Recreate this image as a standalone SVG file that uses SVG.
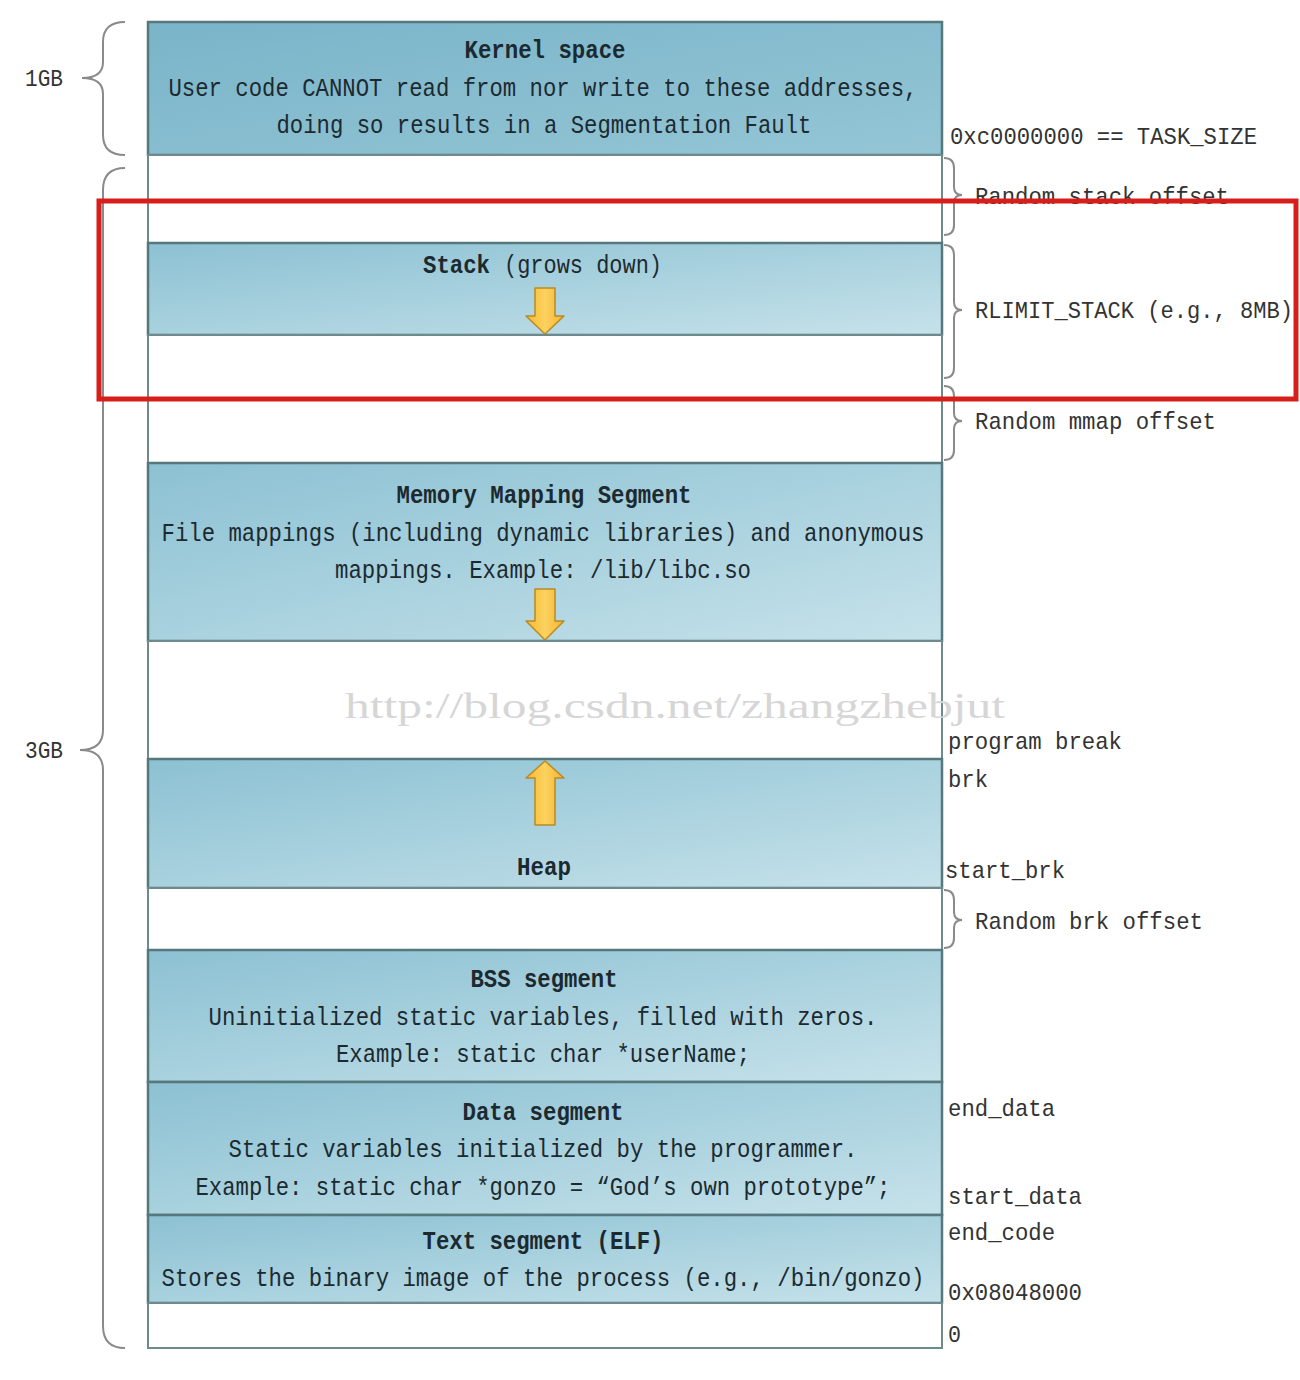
<svg xmlns="http://www.w3.org/2000/svg" width="1300" height="1380" viewBox="0 0 1300 1380">
<style>
.seg{stroke:#56777c;stroke-width:2.5}
.gap{fill:#ffffff;stroke:#6e8a8d;stroke-width:2}
.t{font-family:"Liberation Mono","DejaVu Sans Mono",monospace;font-size:25px;fill:#1c2a30;text-anchor:middle}
.s{text-anchor:start}
.b{font-weight:bold}
.lbl{font-family:"Liberation Mono","DejaVu Sans Mono",monospace;font-size:24px;fill:#333333}
.brace{fill:none;stroke:#8a8a8a;stroke-width:2}
.arrow{fill:url(#yel);stroke:#b98a25;stroke-width:1.5;stroke-linejoin:round}
.wm{font-family:"Liberation Serif","DejaVu Serif",serif;font-size:36px;fill:#d6d6d6}
</style>
<defs>
<linearGradient id="blue" x1="0" y1="0" x2="1" y2="1">
<stop offset="0" stop-color="#8cc1d3"/>
<stop offset="1" stop-color="#c6e2ea"/>
</linearGradient>
<linearGradient id="kern" x1="0" y1="0" x2="1" y2="1">
<stop offset="0" stop-color="#7ab4c9"/>
<stop offset="1" stop-color="#94c6d5"/>
</linearGradient>
<linearGradient id="yel" x1="0" y1="0" x2="1" y2="0">
<stop offset="0" stop-color="#f6b92c"/>
<stop offset="0.5" stop-color="#fcd260"/>
<stop offset="1" stop-color="#f4b42a"/>
</linearGradient>
</defs>
<rect width="1300" height="1380" fill="#ffffff"/>

<g id="kernel">
<rect class="seg" x="148" y="22" width="794" height="133" fill="url(#kern)"/>
<text class="t b" x="545" y="58" textLength="161" lengthAdjust="spacingAndGlyphs">Kernel space</text>
<text class="t" x="543" y="96" textLength="749" lengthAdjust="spacingAndGlyphs">User code CANNOT read from nor write to these addresses,</text>
<text class="t" x="544" y="133" textLength="535" lengthAdjust="spacingAndGlyphs">doing so results in a Segmentation Fault</text>
</g>
<g id="gap-stack-offset"><rect class="gap" x="148" y="155" width="794" height="88"/></g>
<g id="stack">
<rect class="seg" x="148" y="243" width="794" height="92" fill="url(#blue)"/>
<text class="t s b" x="423" y="273" textLength="67" lengthAdjust="spacingAndGlyphs">Stack</text>
<text class="t s" x="504" y="273" textLength="158" lengthAdjust="spacingAndGlyphs">(grows down)</text>
<path class="arrow" d="M535,288 H555 V316 H564 L545,334 L526,316 H535 Z"/>
</g>
<g id="gap-stack-mmap"><rect class="gap" x="148" y="335" width="794" height="128"/></g>
<g id="mmap">
<rect class="seg" x="148" y="463" width="794" height="178" fill="url(#blue)"/>
<text class="t b" x="544" y="503" textLength="295" lengthAdjust="spacingAndGlyphs">Memory Mapping Segment</text>
<text class="t" x="543" y="541" textLength="763" lengthAdjust="spacingAndGlyphs">File mappings (including dynamic libraries) and anonymous</text>
<text class="t" x="543" y="578" textLength="416" lengthAdjust="spacingAndGlyphs">mappings. Example: /lib/libc.so</text>
<path class="arrow" d="M535,589 H555 V621 H564 L545,640 L526,621 H535 Z"/>
</g>
<g id="gap-mmap-heap"><rect class="gap" x="148" y="641" width="794" height="118"/></g>
<g id="heap">
<rect class="seg" x="148" y="759" width="794" height="129" fill="url(#blue)"/>
<path class="arrow" d="M545,761 L564,778 H555 V825 H535 V778 H526 Z"/>
<text class="t b" x="544" y="875" textLength="54" lengthAdjust="spacingAndGlyphs">Heap</text>
</g>
<g id="gap-brk"><rect class="gap" x="148" y="888" width="794" height="62"/></g>
<g id="bss">
<rect class="seg" x="148" y="950" width="794" height="132" fill="url(#blue)"/>
<text class="t b" x="544" y="987" textLength="147" lengthAdjust="spacingAndGlyphs">BSS segment</text>
<text class="t" x="543" y="1025" textLength="669" lengthAdjust="spacingAndGlyphs">Uninitialized static variables, filled with zeros.</text>
<text class="t" x="543" y="1062" textLength="414" lengthAdjust="spacingAndGlyphs">Example: static char *userName;</text>
</g>
<g id="data">
<rect class="seg" x="148" y="1082" width="794" height="133" fill="url(#blue)"/>
<text class="t b" x="543" y="1120" textLength="161" lengthAdjust="spacingAndGlyphs">Data segment</text>
<text class="t" x="543" y="1157" textLength="629" lengthAdjust="spacingAndGlyphs">Static variables initialized by the programmer.</text>
<text class="t" x="543" y="1195" textLength="695" lengthAdjust="spacingAndGlyphs">Example: static char *gonzo = “God’s own prototype”;</text>
</g>
<g id="text-segment">
<rect class="seg" x="148" y="1215" width="794" height="88" fill="url(#blue)"/>
<text class="t b" x="543" y="1249" textLength="241" lengthAdjust="spacingAndGlyphs">Text segment (ELF)</text>
<text class="t" x="543" y="1286" textLength="763" lengthAdjust="spacingAndGlyphs">Stores the binary image of the process (e.g., /bin/gonzo)</text>
</g>
<g id="gap-bottom"><rect class="gap" x="148" y="1303" width="794" height="45"/></g>

<g id="connectors">
<path class="brace" d="M125,22 Q103,22 103,42 L103,62 Q103,78 82,78 Q103,78 103,94 L103,135 Q103,155 125,155"/>
<path class="brace" d="M125,168 Q103,168 103,190 L103,730 Q103,750 80,750 Q103,750 103,770 L103,1326 Q103,1348 125,1348"/>
<path class="brace" d="M944,158 Q954,158 954,168 L954,187 Q954,195 962,195 Q954,195 954,203 L954,225 Q954,235 944,235"/>
<path class="brace" d="M944,245 Q954,245 954,255 L954,302 Q954,310 962,310 Q954,310 954,318 L954,368 Q954,378 944,378"/>
<path class="brace" d="M944,386 Q954,386 954,396 L954,413 Q954,421 962,421 Q954,421 954,429 L954,450 Q954,460 944,460"/>
<path class="brace" d="M944,890 Q954,890 954,900 L954,912 Q954,920 962,920 Q954,920 954,928 L954,938 Q954,948 944,948"/>
</g>

<g id="labels">
<text class="lbl" x="25" y="86" textLength="38" lengthAdjust="spacingAndGlyphs">1GB</text>
<text class="lbl" x="25" y="758" textLength="38" lengthAdjust="spacingAndGlyphs">3GB</text>
<text class="lbl" x="950" y="144" textLength="307" lengthAdjust="spacingAndGlyphs">0xc0000000 == TASK_SIZE</text>
<text class="lbl" x="975" y="204" textLength="254" lengthAdjust="spacingAndGlyphs">Random stack offset</text>
<text class="lbl" x="975" y="318" textLength="318" lengthAdjust="spacingAndGlyphs">RLIMIT_STACK (e.g., 8MB)</text>
<text class="lbl" x="975" y="429" textLength="241" lengthAdjust="spacingAndGlyphs">Random mmap offset</text>
<text class="lbl" x="948" y="749" textLength="174" lengthAdjust="spacingAndGlyphs">program break</text>
<text class="lbl" x="948" y="787" textLength="40" lengthAdjust="spacingAndGlyphs">brk</text>
<text class="lbl" x="945" y="878" textLength="120" lengthAdjust="spacingAndGlyphs">start_brk</text>
<text class="lbl" x="975" y="929" textLength="228" lengthAdjust="spacingAndGlyphs">Random brk offset</text>
<text class="lbl" x="948" y="1116" textLength="107" lengthAdjust="spacingAndGlyphs">end_data</text>
<text class="lbl" x="948" y="1204" textLength="134" lengthAdjust="spacingAndGlyphs">start_data</text>
<text class="lbl" x="948" y="1240" textLength="107" lengthAdjust="spacingAndGlyphs">end_code</text>
<text class="lbl" x="948" y="1300" textLength="134" lengthAdjust="spacingAndGlyphs">0x08048000</text>
<text class="lbl" x="948" y="1342" textLength="13" lengthAdjust="spacingAndGlyphs">0</text>
</g>

<text class="wm" x="345" y="718" textLength="660" lengthAdjust="spacingAndGlyphs">http://blog.csdn.net/zhangzhebjut</text>

<rect x="99" y="201" width="1197" height="198" fill="none" stroke="#d81e1a" stroke-width="5"/>
</svg>
